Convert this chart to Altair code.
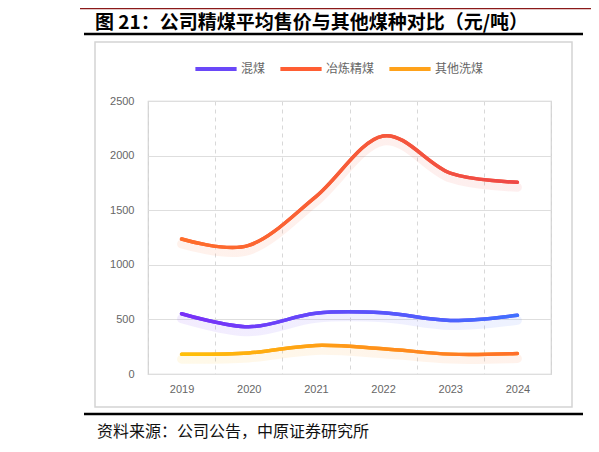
import altair as alt
import pandas as pd

years = ["2019", "2020", "2021", "2022", "2023", "2024"]
mixed = [552, 432, 556, 560, 490, 538]
coking = [1236, 1178, 1625, 2180, 1840, 1756]
washed = [182, 193, 262, 232, 182, 188]

series = ["混煤", "冶炼精煤", "其他洗煤"]
solid_colors = ["#6A48F8", "#FF5E33", "#FFA21A"]
grad_colors = [("#7A2FF7", "#4070FF"), ("#FF6E2A", "#EE4848"), ("#FFC107", "#FF6E2A")]

rows = []
for name, vals in zip(series, [mixed, coking, washed]):
    for y, v in zip(years, vals):
        rows.append({"year": y, "price": v, "series": name})
df = pd.DataFrame(rows)

FONT = "Noto Sans CJK SC"
W, H = 403, 273
CURVE = "cardinal"

x = alt.X("year:O", title=None,
          scale=alt.Scale(type="band", paddingInner=0, paddingOuter=0),
          bandPosition=0.5,
          axis=alt.Axis(labelAngle=0, tickBand="extent", grid=True, gridDash=[4, 4],
                        gridColor="#d8d8d8", domain=False, ticks=False,
                        labelPadding=9, labelColor="#666", labelFontSize=11,
                        labelFont="Liberation Sans"))
y = alt.Y("price:Q", title=None,
          scale=alt.Scale(domain=[0, 2500]),
          axis=alt.Axis(values=[0, 500, 1000, 1500, 2000, 2500], format="d",
                        gridColor="#dedede", domain=False, ticks=False, labelPadding=14,
                        labelColor="#666", labelFontSize=11, labelFont="Liberation Sans"))

base = alt.Chart(df)

# plain lines: give the legend, covered by the gradient ones
legend_lines = base.mark_line(interpolate=CURVE, strokeWidth=3.5, strokeCap="round").encode(
    x=x, y=y,
    color=alt.Color("series:N", sort=series,
                    scale=alt.Scale(domain=series, range=solid_colors),
                    legend=alt.Legend(title=None, orient="none", direction="horizontal",
                                      legendX=45, legendY=-55, symbolType="stroke",
                                      symbolSize=1700, symbolStrokeWidth=4,
                                      labelFont=FONT, labelFontSize=12, labelColor="#666",
                                      labelOffset=2, columnPadding=6))
)

layers = [legend_lines]
for name, (c1, c2) in zip(series, grad_colors):
    grad = alt.Gradient(gradient="linear", x1=0, x2=1, y1=0, y2=0,
                        stops=[alt.GradientStop(color=c1, offset=0),
                               alt.GradientStop(color=c2, offset=1)])
    sub = base.transform_filter(alt.datum.series == name)
    shadow = sub.mark_line(interpolate=CURVE, strokeWidth=9, stroke=grad,
                           opacity=0.09, yOffset=5, strokeCap="round").encode(x=x, y=y)
    line = sub.mark_line(interpolate=CURVE, strokeWidth=3.5, stroke=grad,
                         strokeCap="round").encode(x=x, y=y)
    layers += [shadow, line]

deco = alt.Chart(pd.DataFrame({"k": [0]}))
box = deco.mark_rect(fill=None, stroke="#d4d4d4", strokeWidth=1.5).encode(
    x=alt.value(-53), x2=alt.value(424), y=alt.value(-59), y2=alt.value(306))
top_red = deco.mark_rule(color="#8B1A1A", strokeWidth=1.5).encode(
    x=alt.value(-68), x2=alt.value(443), y=alt.value(-92.5))
rule_top = deco.mark_rule(color="#000", strokeWidth=2.5).encode(
    x=alt.value(-64), x2=alt.value(435), y=alt.value(-67))
rule_bottom = deco.mark_rule(color="#000", strokeWidth=2.5).encode(
    x=alt.value(-64), x2=alt.value(435), y=alt.value(313))
title = deco.mark_text(text="图 21：公司精煤平均售价与其他煤种对比（元/吨）", font=FONT,
                       fontSize=19, fontWeight="bold", align="left", baseline="middle",
                       color="#000").encode(x=alt.value(-53), y=alt.value(-78))
source = deco.mark_text(text="资料来源：公司公告，中原证券研究所", font=FONT,
                        fontSize=16, align="left", baseline="middle",
                        color="#111").encode(x=alt.value(-51), y=alt.value(331))

chart = alt.layer(box, top_red, rule_top, rule_bottom, title, source, *layers).properties(
    width=W, height=H,
    autosize=alt.AutoSizeParams(type="none"),
    padding={"left": 140, "top": 93, "right": 40, "bottom": 70},
).configure_view(stroke="#cfcfcf", strokeWidth=1.2)

chart.save("out.html", embed_options={"renderer": "svg", "actions": False})
